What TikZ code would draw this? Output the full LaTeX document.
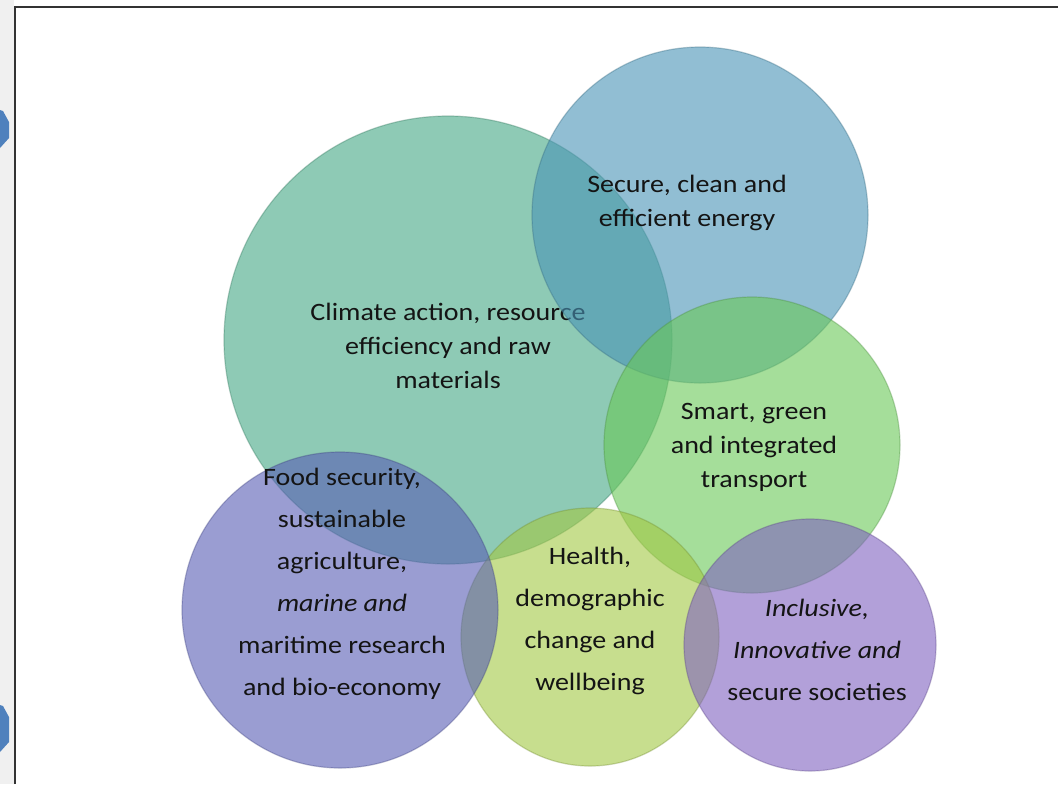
\documentclass[tikz,border=0pt]{standalone}
\usepackage{fontspec}
\setmainfont{Carlito}[FakeStretch=1.12]
\definecolor{climatecol}{RGB}{68,168,132}
\definecolor{energycol}{RGB}{73,148,182}
\definecolor{transportcol}{RGB}{105,200,87}
\definecolor{healthcol}{RGB}{163,200,67}
\definecolor{foodcol}{RGB}{87,93,180}
\definecolor{societycol}{RGB}{128,97,192}
\definecolor{tabblue}{RGB}{79,129,189}
\definecolor{stripgray}{RGB}{240,240,240}
\tikzset{
bubble/.style={circle, inner sep=0pt, fill=#1, fill opacity=0.6,
  draw=#1!70!black, draw opacity=0.35, line width=0.6pt},
blurb/.style={align=center, text=black!92, inner sep=0pt,
  font=\fontsize{12.5}{17}\selectfont},
tallblurb/.style={blurb, font=\fontsize{12.5}{21}\selectfont},
tab/.style={fill=tabblue, draw=none}
}

\begin{document}
\begin{tikzpicture}[x=0.5pt,y=-0.5pt]
\useasboundingbox (0,0) rectangle (1058,784);
\fill[white] (0,0) rectangle (1058,784);
\fill[stripgray] (0,0) rectangle (14,784);
% side tabs
\fill[tab] (0,110) -- (3,111) -- (9,122) -- (9,138) -- (0,148) -- cycle;
\fill[tab] (0,705) -- (3,706) -- (9,717) -- (9,742) -- (0,752) -- cycle;
% frame
\draw[black!80, line width=1.3pt] (15,784) -- (15,7) -- (1058,7);

% circles, back to front
\node[bubble=climatecol, minimum size=224pt] (climate) at (448,340) {};
\node[blurb] (climate-txt) at (448,346)
  {Climate action, resource\\efficiency and raw\\materials};
\node[bubble=energycol, minimum size=168pt] (energy) at (700,215) {};
\node[blurb] (energy-txt) at (687,203) {Secure, clean and\\efficient energy};
\node[bubble=transportcol, minimum size=148pt] (transport) at (752,445) {};
\node[blurb] (transport-txt) at (754,447) {Smart, green\\and integrated\\transport};
\node[bubble=healthcol, minimum size=129pt] (health) at (590,637) {};
\node[tallblurb] (health-txt) at (590,621)
  {Health,\\demographic\\change and\\wellbeing};
\node[bubble=foodcol, minimum size=158pt] (food) at (340,610) {};
\node[tallblurb] (food-txt) at (342,584)
  {Food security,\\sustainable\\agriculture,\\\textit{marine and}\\maritime research\\and bio-economy};
\node[bubble=societycol, minimum size=126pt] (society) at (810,645) {};
\node[tallblurb] (society-txt) at (817,650)
  {\textit{Inclusive,}\\\textit{Innovative and}\\secure societies};
\end{tikzpicture}
\end{document}
